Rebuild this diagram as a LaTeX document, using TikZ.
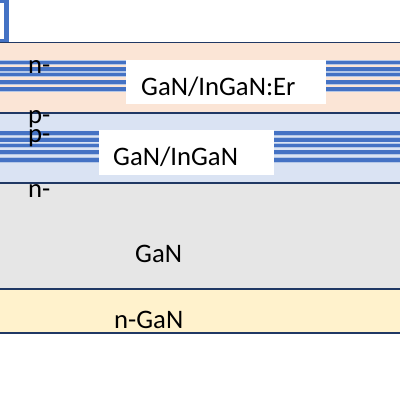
\documentclass[tikz,border=0pt]{standalone}
\usepackage{fontspec}
\setmainfont{Carlito}
\usetikzlibrary{positioning}
\usepackage{xcolor}
\definecolor{peach}{HTML}{FBE5D6}
\definecolor{paleblue}{HTML}{DAE3F3}
\definecolor{lightgrey}{HTML}{E6E6E6}
\definecolor{cream}{HTML}{FFF2CC}
\definecolor{navy}{HTML}{203864}
\definecolor{stripeblue}{HTML}{4472C4}
\definecolor{stripeedge}{HTML}{B4C7E7}

\begin{document}
\begin{tikzpicture}[x=1pt, y=-1pt,
	layer/.style={draw=navy, line width=1.6pt},
	stripe/.style={stripeblue, line width=3.8pt, preaction={draw=stripeedge, line width=5.4pt}},
	whitebox/.style={fill=white, inner sep=0pt, anchor=north west},
	lbl/.style={anchor=base west, inner sep=0pt, font=\fontsize{26.7}{32}\selectfont}]
	\useasboundingbox (0,0) rectangle (400,400);
	\clip (0,0) rectangle (400,400);
	\fill[white] (0,0) rectangle (400,400);
	% contact
	\draw[stripeblue, line width=5.3pt, fill=white] (-20,0) rectangle (6.7,42);
	% layers
	\fill[peach] (-10,42.5) rectangle (410,113);
	\fill[paleblue] (-10,113) rectangle (410,183);
	\fill[lightgrey] (-10,183) rectangle (410,288.8);
	\fill[cream] (-10,288.8) rectangle (410,332.8);
	% quantum wells
	\foreach \y in {62.5,69.3,74.5,82.3,89.2}
		\draw[stripe] (-10,\y) -- (410,\y);
	\foreach \y in {133.3,139.7,145.5,152.2,160}
		\draw[stripe] (-10,\y) -- (410,\y);
	\node (erbox) [whitebox, minimum width=200pt, minimum height=43.5pt] at (126,60) {};
	\node (mqwbox) [whitebox, minimum width=175pt, minimum height=44.3pt] at (99,130) {};
	% boundaries
	\foreach \y in {42.5,113,183,288.8,332.8}
		\draw[layer] (-10,\y) -- (410,\y);
	% labels
	\node (erlbl) [lbl] at (141,95) {GaN/InGaN:Er};
	\node (mqwlbl) [lbl] at (113,165) {GaN/InGaN};
	\node (ganlbl) [lbl] at (135,262) {GaN};
	\node (nganlbl) [lbl] at (114,328) {n-GaN};
	\node (ntop) [lbl] at (28,73) {n-};
	\node (pone) [lbl] at (28,123) {p-};
	\node (ptwo) [lbl] at (28,142.5) {p-};
	\node (nbot) [lbl] at (28,197) {n-};
\end{tikzpicture}
\end{document}
